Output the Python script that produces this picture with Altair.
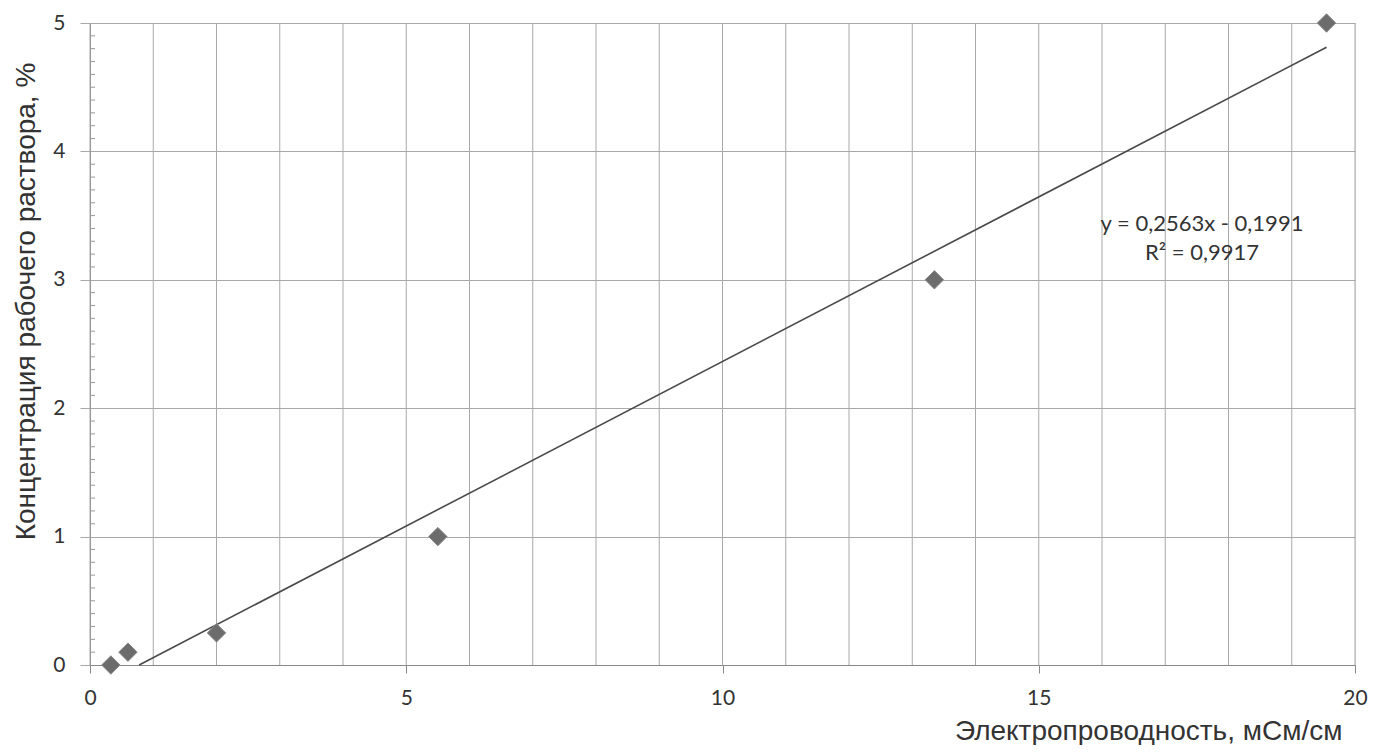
import altair as alt
import pandas as pd

# data points
cond = [0.33, 0.6, 2.0, 5.5, 13.35, 19.55]
conc = [0.0, 0.1, 0.25, 1.0, 3.0, 5.0]

# trend line y = a*x + b (as printed on the chart)
slope = 0.2563
intercept = -0.1991
trend_x = [-intercept / slope, 19.55]

x_labels = [0, 5, 10, 15, 20]
y_labels = [0, 1, 2, 3, 4, 5]
x_grid = list(range(0, 21))
y_minor = [round(i * 0.1, 1) for i in range(0, 51) if i % 10 != 0]

eq_lines = ["y = 0,2563x - 0,1991", "R² = 0,9917"]

W, H = 1265, 642
GRID = "#a9a9a9"

pts = pd.DataFrame({"x": cond, "y": conc})
trend = pd.DataFrame({"x": trend_x, "y": [slope * v + intercept for v in trend_x]})
gx = pd.DataFrame({"gx": x_grid})
ym = pd.DataFrame({"ym": y_minor})

xs = alt.Scale(domain=[0, 20], nice=False, zero=False)
ys = alt.Scale(domain=[0, 5], nice=False, zero=False)

xaxis = alt.Axis(
    values=x_labels, format="d", labelFlush=False, grid=False, tickSize=8,
    tickColor="#888", domainColor="#888",
    labelFont="Lato", labelFontSize=21, labelColor="#333", labelPadding=14,
    title="Электропроводность, мСм/см", titleFont="Liberation Sans",
    titleFontSize=28, titleFontWeight="normal", titleColor="#333",
    titleAnchor="end", titleAlign="right", titleX=1252, titleY=74,
    titleBaseline="alphabetic",
)
yaxis = alt.Axis(
    values=y_labels, format="d", labelFlush=False, grid=True, gridColor=GRID,
    tickSize=10, tickColor=GRID,
    domainColor="#888", labelFont="Lato", labelFontSize=21, labelColor="#333",
    labelPadding=15,
    title="Концентрация рабочего раствора, %", titleFont="Liberation Sans",
    titleFontSize=28, titleFontWeight="normal", titleColor="#333",
    titleAngle=270, titleAlign="center", titleBaseline="alphabetic",
    titleX=-56, titleY=278,
)

grid = alt.Chart(gx).mark_rule(color=GRID, strokeWidth=1).encode(
    x=alt.X("gx:Q", scale=xs, axis=xaxis)
)

minor = alt.Chart(ym).mark_rule(color="#999", strokeWidth=1).encode(
    y=alt.Y("ym:Q", scale=ys, axis=yaxis),
    x=alt.value(0), x2=alt.value(5),
)

line = alt.Chart(trend).mark_line(color="#4a4a4a", strokeWidth=1.6).encode(
    x=alt.X("x:Q", scale=xs), y=alt.Y("y:Q", scale=ys)
)

points = alt.Chart(pts).mark_point(
    shape="diamond", filled=True, size=340, color="#6c6c6c",
    stroke="#8a8a8a", strokeWidth=1, opacity=1,
).encode(x=alt.X("x:Q", scale=xs), y=alt.Y("y:Q", scale=ys))

eq = pd.DataFrame({"t": ["\n".join(eq_lines)]})
text = alt.Chart(eq).mark_text(
    font="Lato", fontSize=22, color="#333", align="center", baseline="middle",
    lineBreak="\n", lineHeight=29,
).encode(
    text="t:N",
    x=alt.value(1112),
    y=alt.value(201),
)

chart = alt.layer(grid, minor, line, points, text).properties(
    width=W, height=H,
    autosize=alt.AutoSizeParams(type="none"),
    padding={"left": 82, "top": 15, "right": 13, "bottom": 80},
).configure_view(stroke=GRID, strokeWidth=1).configure(background="white")

chart.save("out.html", embed_options={"renderer": "svg", "actions": False})
